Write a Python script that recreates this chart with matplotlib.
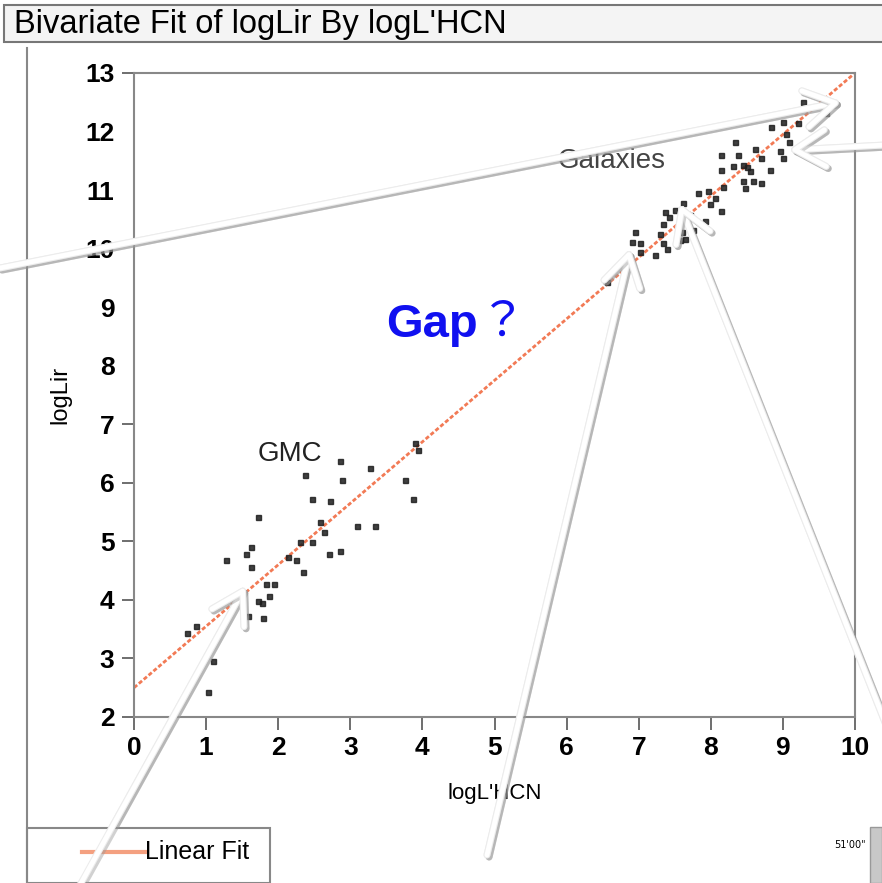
import matplotlib
matplotlib.use("Agg")
import matplotlib.pyplot as plt
import matplotlib.patheffects as pe
from matplotlib.patches import Rectangle
import numpy as np

# veri: GMC noktalari
gmc_x = [0.74, 0.86, 1.10, 1.03, 1.28, 1.55, 1.62, 1.62, 1.72, 1.58, 1.79, 1.72, 1.78,
         1.87, 1.83, 1.94, 2.14, 2.25, 2.34, 2.30, 2.47, 2.70, 2.86, 2.64, 2.58, 2.47,
         2.72, 2.37, 2.86, 2.88, 3.27, 3.09, 3.34, 3.76, 3.87, 3.90, 3.94]
gmc_y = [3.43, 3.55, 2.96, 2.43, 4.68, 4.78, 4.90, 4.56, 5.42, 3.73, 3.69, 3.98, 3.95,
         4.07, 4.27, 4.27, 4.73, 4.68, 4.48, 4.99, 4.99, 4.78, 4.84, 5.16, 5.33, 5.72,
         5.69, 6.13, 6.37, 6.05, 6.25, 5.26, 5.26, 6.05, 5.72, 6.68, 6.56]

# veri: galaksi noktalari
gal_x = [9.28, 9.60, 8.83, 9.00, 9.21, 9.04, 9.08, 8.96, 9.00, 8.34, 8.61, 8.70, 8.14,
         8.38, 8.45, 8.50, 8.31, 8.14, 8.82, 8.54, 8.45, 8.59, 8.70, 8.47, 8.17, 7.96,
         7.82, 8.06, 7.99, 8.14, 7.92, 7.61, 7.36, 7.42, 7.50, 7.34, 7.71, 6.95, 7.30,
         7.60, 7.64, 7.57, 7.75, 6.91, 7.02, 7.34, 7.39, 7.23, 7.02, 6.56]
gal_y = [12.50, 12.32, 12.08, 12.16, 12.14, 11.96, 11.82, 11.67, 11.55, 11.82, 11.70,
         11.55, 11.60, 11.60, 11.43, 11.39, 11.41, 11.34, 11.34, 11.33, 11.15, 11.15,
         11.12, 11.04, 11.05, 10.98, 10.95, 10.86, 10.76, 10.64, 10.47, 10.78, 10.63,
         10.54, 10.66, 10.42, 10.57, 10.28, 10.25, 10.28, 10.16, 10.15, 10.32, 10.11,
         10.10, 10.10, 9.99, 9.89, 9.94, 9.43]

# dogrusal uyum: logLir = a + b * logL'HCN
fit_a = 2.5
fit_b = 1.05
fit_x = [0, 10]

x_ticks = [0, 1, 2, 3, 4, 5, 6, 7, 8, 9, 10]
y_ticks = [2, 3, 4, 5, 6, 7, 8, 9, 10, 11, 12, 13]

W, H = 882, 883
fig = plt.figure(figsize=(W / 100, H / 100), dpi=100)
fig.patch.set_facecolor("white")

def fx(px):
    return px / W

def fy(py):
    return 1 - py / H

# baslik cubugu
fig.patches.append(Rectangle((fx(4), fy(42)), fx(880), 37 / H, transform=fig.transFigure,
                             facecolor="#f4f4f4", edgecolor="#777777", lw=1.5))
fig.text(fx(14), fy(24), "Bivariate Fit of logLir By logL'HCN", fontsize=23.5,
         family="Liberation Sans", va="center", ha="left", color="black")

# panel cercevesi
fig.add_artist(plt.Line2D([fx(27), fx(27)], [fy(48), 0], transform=fig.transFigure,
                          color="#888888", lw=1.5))

ax = fig.add_axes([fx(134), fy(717), fx(855) - fx(134), (717 - 73) / H])

ax.plot(fit_x, [fit_a + fit_b * v for v in fit_x], color="#f27a55", lw=2,
        linestyle=(0, (1.5, 0.8)), zorder=2)
ax.plot(gmc_x, gmc_y, "s", ms=3.6, color="#1e1e1e", alpha=0.85, zorder=3)
ax.plot(gal_x, gal_y, "s", ms=3.6, color="#1e1e1e", alpha=0.85, zorder=3)

ax.set_xlim(0, 10)
ax.set_ylim(2, 13)
ax.set_xticks(x_ticks)
ax.set_yticks(y_ticks)
ax.set_xticklabels([str(v) for v in x_ticks], fontsize=19, fontweight="bold",
                   family="Liberation Sans")
ax.set_yticklabels([str(v) for v in y_ticks], fontsize=19, fontweight="bold",
                   family="Liberation Sans")
ax.tick_params(direction="out", length=9, width=1.2, color="#555555", pad=5)
for t in ax.yaxis.get_major_ticks()[6:11]:
    t.tick1line.set_visible(False)
for s in ax.spines.values():
    s.set_color("#888888")
    s.set_linewidth(1.5)

ax.set_xlabel("logL'HCN", fontsize=16, family="Liberation Sans", labelpad=16)
ax.set_ylabel("logLir", fontsize=17, family="Liberation Sans", labelpad=10)

ax.text(6.63, 11.5, "Galaxies", fontsize=20, color="#444444", ha="center", va="center",
        family="Liberation Sans")
ax.text(2.16, 6.5, "GMC", fontsize=20, color="#222222", ha="center", va="center",
        family="Liberation Sans")
ax.text(3.5, 8.7, "Gap", fontsize=34, color="#1010f0", fontweight="bold",
        ha="left", va="center", family="Liberation Sans")
ax.text(4.79, 8.73, "？", fontsize=34, color="#1010f0",
        ha="left", va="center", family=["Noto Sans CJK JP", "DejaVu Sans"])

# lejant kutusu
fig.patches.append(Rectangle((fx(27), 0), fx(270) - fx(27), fy(828), transform=fig.transFigure,
                             facecolor="white", edgecolor="#888888", lw=1.5))
fig.add_artist(plt.Line2D([fx(82), fx(145)], [fy(852), fy(852)], transform=fig.transFigure,
                          color="#f4a080", lw=3))
fig.text(fx(145), fy(852), "Linear Fit", fontsize=18, family="Liberation Sans",
         va="center", ha="left")

# sag alt kosedeki parca
fig.patches.append(Rectangle((fx(870), 0), fx(12), fy(827), transform=fig.transFigure,
                             facecolor="#c8c8c8", edgecolor="#999999", lw=1))
fig.text(fx(866), fy(845), "51'00\"", fontsize=7, ha="right", va="center")

# beyaz oklar (tail -> head, goruntu pikselleri)
arrows = [((0, 268), (840, 102)),
          ((885, 145), (790, 150)),
          ((487, 855), (630, 250)),
          ((890, 735), (680, 205)),
          ((80, 885), (245, 587))]
for tail, head in arrows:
    fig.add_artist(plt.annotate("", xy=(head[0], H - head[1]), xytext=(tail[0], H - tail[1]),
                   xycoords="figure pixels", textcoords="figure pixels",
                   arrowprops=dict(arrowstyle="->,head_length=1.0,head_width=0.6",
                                   mutation_scale=22, lw=3.5, color="white",
                                   shrinkA=0, shrinkB=0, capstyle="round", joinstyle="round",
                                   path_effects=[pe.SimpleLineShadow(offset=(1.5, -1.5),
                                                                     shadow_color="#999999",
                                                                     alpha=0.45, linewidth=5),
                                                 pe.Stroke(linewidth=5, foreground="#ececec"),
                                                 pe.Normal()])))

fig.savefig("out.png", dpi=100)
